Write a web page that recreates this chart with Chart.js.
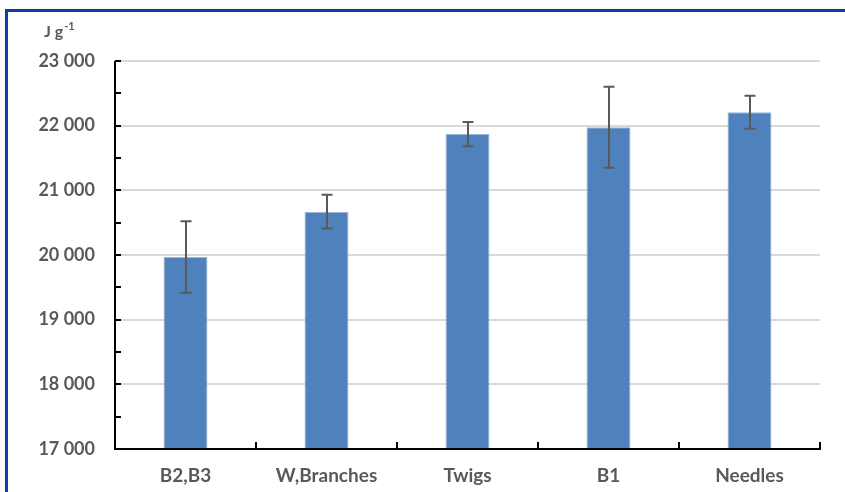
<!DOCTYPE html>
<html>
<head>
<meta charset="utf-8">
<script src="https://cdn.jsdelivr.net/npm/chart.js@4.4.1/dist/chart.umd.min.js"></script>
<style>
  html,body{margin:0;padding:0;background:#fff}
  #wrap{width:845px;height:492px;position:relative}
</style>
</head>
<body>
<div id="wrap"><canvas id="chart" width="845" height="492"></canvas></div>
<script>
'use strict';

// data
const categories = ['B2,B3', 'W,Branches', 'Twigs', 'B1', 'Needles'];
const energy     = [19968, 20670, 21870, 21976, 22207];
const errors     = [553, 262, 188, 626, 256];
const yMin = 17000, yMax = 23000, yStep = 1000, yMinorStep = 500;
const unitLabel = 'J g', unitSup = '-1';

const TEXT = '#595959';
const FONT = 'Lato, "Open Sans", sans-serif';

const fmtThousands = v => String(v).replace(/\B(?=(\d{3})+(?!\d))/g, ' ');

// frame, axes ticks, unit label
const decor = {
  id: 'decor',
  beforeDraw(chart) {
    const c = chart.ctx;
    c.save();
    c.fillStyle = '#fff';
    c.fillRect(0, 0, chart.width, chart.height);
    c.strokeStyle = '#0E3FA3';
    c.lineWidth = 3;
    c.beginPath();
    c.moveTo(6.5, chart.height + 5);
    c.lineTo(6.5, 10.5);
    c.lineTo(chart.width + 5, 10.5);
    c.stroke();
    c.restore();
  },
  afterDatasetsDraw(chart) {
    const c = chart.ctx, a = chart.chartArea;
    const ys = chart.scales.y;
    c.save();
    c.strokeStyle = '#000';
    c.lineWidth = 2;
    c.beginPath();
    c.moveTo(a.left, a.top); c.lineTo(a.left, a.bottom + 1);
    c.moveTo(a.left - 1, a.bottom); c.lineTo(a.right + 1, a.bottom);
    // y ticks, major and minor, pointing inside
    for (let v = yMin + yMinorStep; v <= yMax; v += yMinorStep) {
      const y = Math.round(ys.getPixelForValue(v));
      c.moveTo(a.left, y); c.lineTo(a.left + 6, y);
    }
    // x ticks between categories
    const w = (a.right - a.left) / categories.length;
    for (let i = 1; i <= categories.length; i++) {
      const x = Math.round(a.left + i * w);
      c.moveTo(x, a.bottom); c.lineTo(x, a.bottom - 7);
    }
    c.stroke();

    // error bars
    const meta = chart.getDatasetMeta(0);
    c.strokeStyle = '#595959';
    c.lineWidth = 2;
    c.beginPath();
    meta.data.forEach((bar, i) => {
      const x = Math.round(bar.x);
      const yt = ys.getPixelForValue(energy[i] + errors[i]);
      const yb = ys.getPixelForValue(energy[i] - errors[i]);
      c.moveTo(x, yt); c.lineTo(x, yb);
      c.moveTo(x - 5.5, yt); c.lineTo(x + 5.5, yt);
      c.moveTo(x - 5.5, yb); c.lineTo(x + 5.5, yb);
    });
    c.stroke();

    // unit label
    c.fillStyle = TEXT;
    c.textBaseline = 'alphabetic';
    c.font = 'bold 16px ' + FONT;
    c.fillText(unitLabel, 44, 37);
    const w1 = c.measureText(unitLabel).width;
    c.font = 'bold 11px ' + FONT;
    c.fillText(unitSup, 44 + w1 + 1, 30);
    c.restore();
  }
};

new Chart(document.getElementById('chart'), {
  type: 'bar',
  data: {
    labels: categories,
    datasets: [{
      data: energy,
      backgroundColor: '#4F81BD',
      borderColor: '#9AB6DD',
      borderWidth: 1,
      barPercentage: 0.312,
      categoryPercentage: 1
    }]
  },
  options: {
    responsive: false,
    animation: false,
    events: [],
    layout: { padding: { top: 61, right: 25, left: 0, bottom: 0 } },
    plugins: { legend: { display: false }, tooltip: { enabled: false } },
    scales: {
      x: {
        afterFit: s => { s.height = 43; },
        grid: { display: false, drawTicks: false },
        border: { display: false },
        ticks: { color: TEXT, font: { family: FONT, size: 19, weight: 'bold' }, padding: 15, maxRotation: 0 }
      },
      y: {
        min: yMin, max: yMax,
        afterFit: s => { s.width = 115; },
        grid: { color: '#D9D9D9', lineWidth: 2, drawTicks: false },
        border: { display: false },
        ticks: {
          stepSize: yStep, color: TEXT, padding: 20,
          font: { family: FONT, size: 18, weight: 'bold' },
          callback: v => fmtThousands(v)
        }
      }
    }
  },
  plugins: [decor]
});
</script>
</body>
</html>
